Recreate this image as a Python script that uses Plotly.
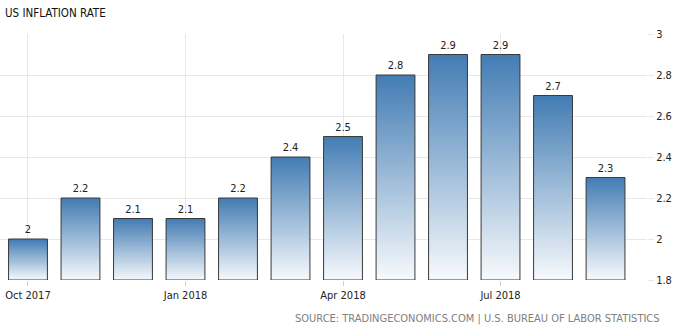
import plotly.graph_objects as go

months = ["Oct 2017", "Nov 2017", "Dec 2017", "Jan 2018", "Feb 2018", "Mar 2018",
          "Apr 2018", "May 2018", "Jun 2018", "Jul 2018", "Aug 2018", "Sep 2018"]
values = [2.0, 2.2, 2.1, 2.1, 2.2, 2.4, 2.5, 2.8, 2.9, 2.9, 2.7, 2.3]
tick_idx = [0, 3, 6, 9]
y_ticks = [1.8, 2.0, 2.2, 2.4, 2.6, 2.8, 3.0]

FONT = "DejaVu Sans Condensed, DejaVu Sans"
YMIN, YMAX = 1.8, 3.0
N = 80
top_c = (68, 125, 180)
bot_c = (246, 249, 252)
x = list(range(len(values)))
bw = 0.74
PLOT_W = 647

fig = go.Figure()
for k in range(N):
    t = k / (N - 1)  # 0 bottom, 1 top
    c = tuple(round(b + (a - b) * t) for a, b in zip(top_c, bot_c))
    bases = [YMIN + (v - YMIN) * k / N for v in values]
    hs = [(v - YMIN) / N * 1.6 if k < N - 1 else (v - YMIN) / N for v in values]
    fig.add_trace(go.Bar(x=x, y=hs, base=bases, width=bw,
                         marker=dict(color=f"rgb{c}", line=dict(width=0)),
                         showlegend=False, hoverinfo="skip"))

labels = [f"{v:g}" for v in values]
fig.add_trace(go.Bar(x=x, y=[v - YMIN for v in values], base=[YMIN] * len(values), width=bw,
                     marker=dict(color="rgba(0,0,0,0)", line=dict(color="#3a3a3a", width=1)),
                     text=labels, textposition="outside", cliponaxis=False,
                     textfont=dict(family=FONT, size=11, color="#222"),
                     showlegend=False, hoverinfo="skip"))

fig.update_layout(
    width=675, height=331, barmode="overlay",
    margin=dict(l=0, r=675 - PLOT_W, t=34, b=51),
    plot_bgcolor="white", paper_bgcolor="white",
    xaxis=dict(range=[-0.533, 11.79], tickmode="array", tickvals=tick_idx,
               ticktext=[months[i] for i in tick_idx], showgrid=True, gridcolor="#e8e8e8",
               zeroline=False, ticks="outside", ticklen=5, tickcolor="#d0d0d0",
               tickfont=dict(family=FONT, size=11, color="#222"), showline=False),
    yaxis=dict(range=[YMIN, YMAX], side="right", tickvals=y_ticks, ticktext=[f"{v:g}" for v in y_ticks],
               showgrid=True, gridcolor="#e8e8e8", zeroline=False, ticks="outside", ticklen=6,
               tickcolor="#e8e8e8", tickfont=dict(family=FONT, size=11, color="#222")),
    annotations=[
        dict(text="US INFLATION RATE", x=3 / PLOT_W, y=1, yshift=34 - 4, xref="paper", yref="paper",
             xanchor="left", yanchor="top", showarrow=False,
             font=dict(family=FONT, size=11.5, color="#111")),
        dict(text="SOURCE: TRADINGECONOMICS.COM | U.S. BUREAU OF LABOR STATISTICS",
             x=662 / PLOT_W, y=0, yshift=-51 + 4, xref="paper", yref="paper",
             xanchor="right", yanchor="bottom",
             showarrow=False, font=dict(family=FONT, size=11, color="#808080")),
    ],
)
fig.write_html("out.html")
